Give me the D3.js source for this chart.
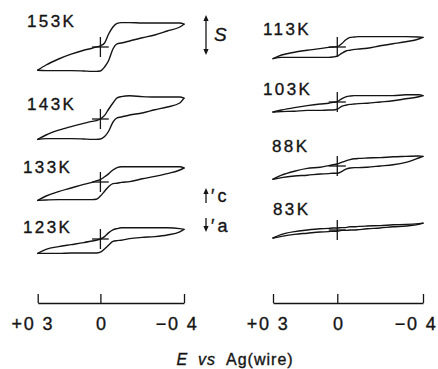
<!DOCTYPE html>
<html><head><meta charset="utf-8">
<script src="https://cdn.jsdelivr.net/npm/d3@7"></script>
<style>
html,body{margin:0;padding:0;background:#fff;}
svg{display:block;}
text{font-family:"Liberation Sans",Arial,Helvetica,"DejaVu Sans",sans-serif;fill:#141414;stroke:#141414;stroke-width:0.35px;}
</style></head><body>
<svg id="chart" width="438" height="369"></svg>
<script>
// ---------------- data ----------------
// potential grid (V vs Ag wire), sweep from +0.3 to -0.4
const potentials = [0.30, 0.26, 0.20, 0.14, 0.08, 0.04, 0.02, 0.00, -0.02, -0.04, -0.06, -0.08, -0.10, -0.14, -0.20, -0.26, -0.32, -0.38, -0.40];
const leftTemps = ["153K", "143K", "133K", "123K"];
const rightTemps = ["113K", "103K", "88K", "83K"];
// currents in units of the scale bar S (cathodic up); fwd = cathodic sweep, rev = return sweep
const fwd153 = [-0.58, -0.45, -0.30, -0.18, -0.08, -0.03, 0.00, 0.03, 0.10, 0.33, 0.50, 0.59, 0.61, 0.61, 0.60, 0.60, 0.60, 0.60, 0.57];
const rev153 = [-0.58, -0.59, -0.59, -0.59, -0.60, -0.61, -0.61, -0.60, -0.50, -0.33, -0.05, 0.08, 0.10, 0.15, 0.23, 0.30, 0.40, 0.50, 0.57];
const fwd143 = [-0.51, -0.40, -0.28, -0.19, -0.11, -0.06, -0.04, 0.00, 0.09, 0.25, 0.40, 0.53, 0.56, 0.58, 0.56, 0.55, 0.55, 0.55, 0.52];
const rev143 = [-0.51, -0.49, -0.49, -0.49, -0.50, -0.51, -0.51, -0.50, -0.44, -0.30, -0.08, 0.03, 0.05, 0.10, 0.15, 0.23, 0.30, 0.40, 0.52];
const fwd133 = [-0.46, -0.35, -0.24, -0.15, -0.06, -0.01, 0.03, 0.06, 0.13, 0.21, 0.30, 0.36, 0.38, 0.38, 0.38, 0.38, 0.38, 0.38, 0.35];
const rev133 = [-0.46, -0.45, -0.44, -0.44, -0.44, -0.44, -0.43, -0.35, -0.23, -0.11, -0.04, -0.03, -0.01, 0.01, 0.08, 0.14, 0.21, 0.30, 0.35];
const fwd123 = [-0.36, -0.26, -0.19, -0.14, -0.09, -0.05, -0.03, 0.00, 0.06, 0.16, 0.23, 0.26, 0.28, 0.28, 0.28, 0.28, 0.28, 0.26, 0.24];
const rev123 = [-0.36, -0.36, -0.36, -0.35, -0.35, -0.35, -0.35, -0.33, -0.25, -0.15, -0.06, -0.04, -0.03, 0.01, 0.04, 0.06, 0.10, 0.18, 0.24];
const fwd113 = [-0.29, -0.20, -0.13, -0.08, -0.04, -0.01, 0.00, 0.01, 0.08, 0.18, 0.24, 0.25, 0.26, 0.26, 0.26, 0.26, 0.26, 0.25, 0.24];
const rev113 = [-0.29, -0.26, -0.26, -0.26, -0.26, -0.26, -0.25, -0.23, -0.16, -0.10, -0.08, -0.06, -0.05, -0.03, 0.03, 0.08, 0.13, 0.20, 0.24];
const fwd103 = [-0.25, -0.20, -0.14, -0.09, -0.05, -0.03, -0.01, 0.01, 0.08, 0.13, 0.15, 0.16, 0.16, 0.16, 0.16, 0.16, 0.18, 0.18, 0.16];
const rev103 = [-0.25, -0.24, -0.23, -0.21, -0.21, -0.20, -0.20, -0.18, -0.11, -0.08, -0.06, -0.05, -0.04, -0.03, 0.00, 0.03, 0.08, 0.13, 0.16];
const fwd88  = [-0.33, -0.23, -0.13, -0.06, -0.03, 0.01, 0.03, 0.05, 0.09, 0.13, 0.16, 0.18, 0.19, 0.20, 0.21, 0.23, 0.24, 0.25, 0.24];
const rev88  = [-0.33, -0.29, -0.25, -0.23, -0.20, -0.19, -0.18, -0.18, -0.14, -0.08, -0.05, -0.04, -0.04, -0.03, 0.00, 0.03, 0.09, 0.20, 0.24];
const fwd83  = [-0.20, -0.11, -0.04, 0.00, 0.03, 0.04, 0.05, 0.05, 0.06, 0.06, 0.08, 0.08, 0.09, 0.10, 0.11, 0.13, 0.14, 0.16, 0.17];
const rev83  = [-0.20, -0.16, -0.11, -0.08, -0.05, -0.04, -0.03, -0.03, -0.01, -0.01, 0.00, 0.00, 0.01, 0.03, 0.05, 0.08, 0.10, 0.14, 0.17];
const tickValues = [0.3, 0, -0.4];
const tickLabels = ["+0 3", "0", "\u22120 4"];
const scaleBarS = 1;          // current scale bar, in units of S
const axisTitle = ["E", "vs", "Ag(wire)"];

// ---------------- layout / style ----------------
const ink = "#141414";
const ampPx = 40;             // px per unit S
const axisY = 303;
const panels = [
  { temps: leftTemps, fwd: [fwd153, fwd143, fwd133, fwd123], rev: [rev153, rev143, rev133, rev123],
    xRange: [37.7, 184], rowY: [47, 119, 182, 239], labelX: [27, 27, 23, 23], labelY: [27, 110, 173, 233] },
  { temps: rightTemps, fwd: [fwd113, fwd103, fwd88, fwd83], rev: [rev113, rev103, rev88, rev83],
    xRange: [273, 423], rowY: [47, 102, 166, 230], labelX: [263, 263, 272, 273], labelY: [35, 95, 152, 215] }
];

const svg = d3.select("#chart");

panels.forEach(p => {
  const x = d3.scaleLinear().domain([potentials[0], potentials[potentials.length - 1]]).range(p.xRange);
  p.temps.forEach((t, k) => {
    const y = d3.scaleLinear().domain([0, 1]).range([p.rowY[k], p.rowY[k] - ampPx]);
    const line = d3.line().x(d => x(d[0])).y(d => y(d[1])).curve(d3.curveMonotoneX);
    [p.fwd[k], p.rev[k]].forEach(arr => {
      svg.append("path")
        .datum(potentials.map((E, i) => [E, arr[i]]))
        .attr("d", line)
        .attr("fill", "none").attr("stroke", ink).attr("stroke-width", 1.4)
        .attr("stroke-linejoin", "round").attr("stroke-linecap", "round");
    });
    // zero marker cross (E = 0, i = 0)
    svg.append("line").attr("x1", x(0)).attr("x2", x(0)).attr("y1", y(-0.25)).attr("y2", y(0.25))
      .attr("stroke", ink).attr("stroke-width", 1.3);
    svg.append("line").attr("x1", x(0.04)).attr("x2", x(-0.04)).attr("y1", y(0)).attr("y2", y(0))
      .attr("stroke", ink).attr("stroke-width", 1.3);
    svg.append("text").attr("x", p.labelX[k]).attr("y", p.labelY[k])
      .attr("font-size", 17).attr("letter-spacing", 2.4).text(t);
  });

  // potential scale bar
  const axis = d3.axisBottom(x).tickValues(tickValues)
    .tickSizeInner(-9).tickSizeOuter(0).tickPadding(14)
    .tickFormat((d, i) => tickLabels[i]);
  const g = svg.append("g").attr("transform", `translate(0,${axisY})`).call(axis);
  g.select(".domain").attr("stroke", ink).attr("stroke-width", 1.3);
  g.selectAll(".tick line").attr("stroke", ink).attr("stroke-width", 1.3);
  g.selectAll(".tick text")
    .attr("fill", ink).attr("stroke", ink).attr("stroke-width", 0.35)
    .attr("font-size", 18).attr("letter-spacing", 1.8)
    .attr("font-family", '"Liberation Sans",Arial,sans-serif')
    .attr("text-anchor", (d, i) => i === 1 ? "middle" : "end")
    .attr("dx", (d, i) => i === 0 ? 16 : i === 1 ? 1 : 14);
});

// current scale bar S and direction arrows
const arrowX = 206;
const sTop = 15;
function head(xc, yTip, dir) {
  svg.append("path")
    .attr("d", `M${xc},${yTip}L${xc - 2.6},${yTip + dir * 6}L${xc + 2.6},${yTip + dir * 6}Z`)
    .attr("fill", ink);
}
svg.append("line").attr("x1", arrowX).attr("x2", arrowX)
  .attr("y1", sTop + 3).attr("y2", sTop + scaleBarS * ampPx - 3)
  .attr("stroke", ink).attr("stroke-width", 1.3);
head(arrowX, sTop, 1);
head(arrowX, sTop + scaleBarS * ampPx, -1);
svg.append("text").attr("x", 214).attr("y", 41).attr("font-size", 19)
  .attr("font-style", "italic").text("S");

// i_c (up) and i_a (down)
svg.append("line").attr("x1", arrowX).attr("x2", arrowX).attr("y1", 191).attr("y2", 203)
  .attr("stroke", ink).attr("stroke-width", 1.3);
head(arrowX, 188, 1);
svg.append("line").attr("x1", arrowX).attr("x2", arrowX).attr("y1", 218).attr("y2", 229)
  .attr("stroke", ink).attr("stroke-width", 1.3);
head(arrowX, 232, -1);
[["c", 202], ["a", 232]].forEach(([s, yy]) => {
  const t = svg.append("text").attr("x", 211).attr("y", yy).attr("font-size", 18);
  t.append("tspan").text("\u2032");
  t.append("tspan").attr("dx", 3).text(s);
});

// axis title
const title = svg.append("text").attr("x", 235).attr("y", 365).attr("text-anchor", "middle")
  .attr("font-size", 16).attr("letter-spacing", 1);
title.append("tspan").attr("font-style", "italic").text(axisTitle[0]);
title.append("tspan").attr("font-style", "italic").attr("dx", 10).text(axisTitle[1]);
title.append("tspan").attr("dx", 10).text(axisTitle[2]);
</script>
</body></html>
